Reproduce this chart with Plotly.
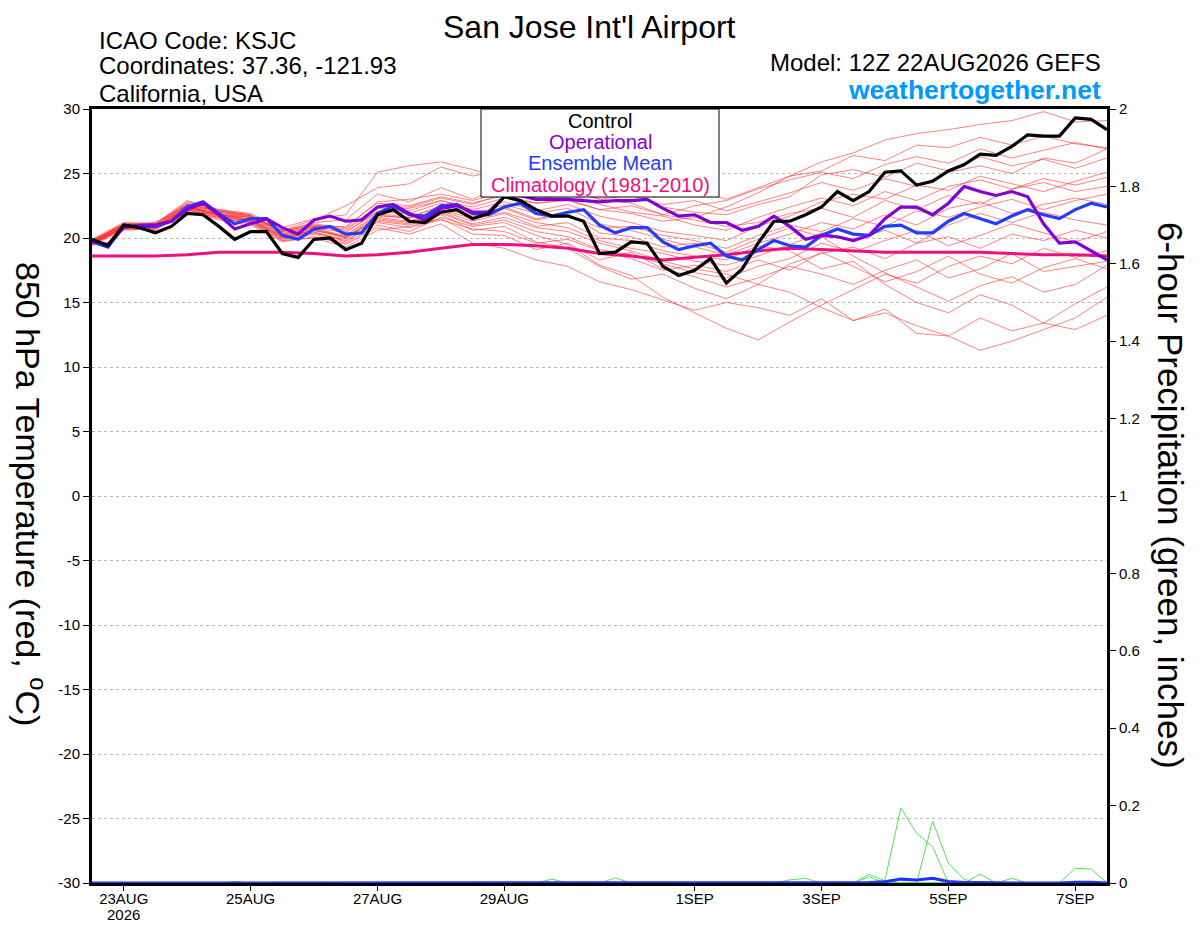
import pandas as pd
import plotly.graph_objects as go

# ---------------- DATA ----------------
START = "2026-08-22 12:00"
N_STEPS = 65  # 6-hourly steps, 22AUG 12Z .. 7SEP 12Z

control = [19.9, 19.4, 21.0, 20.8, 20.4, 20.9, 21.9, 21.8, 20.9, 19.9, 20.5, 20.5, 18.8, 18.5,
           19.9, 20.0, 19.1, 19.6, 21.8, 22.2, 21.3, 21.2, 22.0, 22.2, 21.5, 21.9, 23.2, 22.9,
           22.2, 21.7, 21.7, 21.3, 18.8, 18.9, 19.7, 19.6, 17.8, 17.1, 17.5, 18.4, 16.5, 17.6,
           19.6, 21.3, 21.3, 21.8, 22.4, 23.6, 22.9, 23.6, 25.1, 25.2, 24.1, 24.4, 25.2, 25.7,
           26.5, 26.4, 27.1, 28.0, 27.9, 27.9, 29.3, 29.2, 28.4]

operational = [19.7, 19.5, 20.8, 21.0, 21.0, 21.3, 22.2, 22.7, 21.8, 20.7, 21.1, 21.5, 20.8, 20.3,
               21.4, 21.7, 21.3, 21.4, 22.4, 22.6, 21.9, 21.4, 22.3, 22.5, 22.0, 22.0, 23.2, 23.3,
               23.0, 23.0, 23.0, 22.9, 22.8, 22.9, 22.9, 23.0, 22.3, 21.7, 21.8, 21.2, 21.2, 20.6,
               20.9, 21.7, 20.9, 19.9, 20.2, 20.1, 19.8, 20.2, 21.5, 22.4, 22.4, 21.8, 22.7, 24.0,
               23.6, 23.3, 23.6, 23.2, 21.1, 19.6, 19.7, 19.0, 18.3]

ens_mean = [19.7, 19.3, 20.9, 20.9, 20.9, 21.3, 22.4, 22.8, 21.9, 21.1, 21.5, 21.5, 20.2, 19.9,
            20.7, 20.9, 20.3, 20.4, 21.9, 22.5, 21.8, 21.7, 22.5, 22.6, 21.9, 21.8, 22.4, 22.7,
            21.9, 21.7, 22.0, 22.2, 21.0, 20.4, 20.8, 20.8, 19.7, 19.1, 19.4, 19.6, 18.6, 18.3,
            19.1, 19.8, 19.4, 19.3, 20.2, 20.7, 20.3, 20.2, 20.9, 21.0, 20.4, 20.4, 21.3, 21.9,
            21.5, 21.1, 21.7, 22.2, 21.8, 21.5, 22.2, 22.7, 22.4]

# climatology, 12-hourly
climatology = [18.6, 18.6, 18.6, 18.7, 18.9, 18.9, 18.9, 18.8, 18.6, 18.7, 18.9, 19.2, 19.5,
               19.5, 19.4, 19.2, 18.8, 18.6, 18.3, 18.5, 18.7, 19.0, 19.2, 19.1, 19.0, 18.9,
               18.9, 18.9, 18.9, 18.8, 18.7, 18.7, 18.6]

# ensemble members, 12-hourly
members = [
    [19.8, 21.1, 21.0, 22.7, 22.1, 21.7, 20.5, 21.0, 20.6, 22.3, 22.1, 22.9, 22.4, 23.1, 22.7, 22.9, 22.2,
     21.9, 21.3, 21.6, 22.4, 23.5, 24.8, 25.9, 26.6, 27.6, 28.1, 28.4, 28.8, 29.1, 29.8, 29.0, 29.1],
    [19.6, 20.8, 21.2, 22.5, 21.8, 21.6, 20.6, 21.4, 22.5, 23.9, 24.2, 25.5, 24.8, 25.3, 24.9, 24.7, 24.0,
     24.3, 23.5, 23.7, 23.0, 23.9, 24.8, 25.2, 26.4, 26.0, 27.2, 27.0, 27.8, 27.2, 27.9, 27.3, 27.0],
    [19.7, 21.0, 21.1, 22.9, 22.2, 21.9, 20.8, 21.5, 21.8, 25.1, 25.6, 25.9, 25.3, 24.6, 23.8, 24.2, 23.2,
     23.6, 22.4, 22.0, 21.8, 22.6, 23.2, 24.9, 25.3, 24.7, 25.8, 25.2, 26.3, 25.6, 26.1, 25.4, 26.2],
    [19.5, 20.7, 20.6, 22.2, 21.5, 21.2, 19.8, 20.3, 19.6, 21.0, 20.5, 21.6, 20.9, 21.2, 20.2, 19.5, 17.9,
     17.1, 15.4, 14.2, 13.0, 12.1, 13.5, 14.8, 16.0, 17.2, 16.5, 17.8, 18.6, 18.0, 19.2, 18.5, 19.0],
    [19.6, 20.9, 20.8, 22.3, 21.7, 21.3, 20.0, 20.4, 19.9, 21.5, 21.2, 22.0, 21.1, 21.6, 20.8, 20.5, 19.6,
     19.0, 18.2, 17.6, 17.2, 16.4, 15.8, 14.6, 13.6, 14.2, 13.2, 12.4, 11.3, 12.0, 12.9, 13.8, 15.4],
    [19.4, 20.6, 20.7, 22.1, 21.4, 21.0, 19.7, 20.1, 19.5, 20.8, 20.3, 21.1, 19.6, 19.2, 18.3, 17.8, 16.6,
     16.0, 15.2, 14.4, 15.0, 14.6, 14.0, 15.3, 13.6, 14.5, 12.6, 12.4, 13.8, 12.8, 13.4, 14.9, 16.2],
    [19.7, 20.8, 20.7, 22.0, 21.6, 21.1, 19.8, 20.0, 19.3, 20.6, 20.9, 21.5, 20.3, 20.2, 19.1, 19.6, 18.3,
     18.9, 17.6, 17.0, 16.2, 16.9, 17.8, 17.2, 16.4, 17.5, 18.3, 16.9, 17.6, 18.8, 17.4, 17.8, 18.2],
    [19.8, 21.0, 20.9, 22.5, 22.0, 21.6, 20.3, 20.9, 20.5, 22.0, 21.9, 22.7, 21.8, 22.6, 21.9, 22.3, 21.1,
     20.6, 19.9, 19.3, 18.7, 19.6, 20.3, 21.2, 20.7, 21.8, 21.0, 22.3, 22.8, 21.9, 22.6, 23.1, 22.6],
    [19.9, 21.2, 21.1, 22.8, 22.2, 21.8, 20.6, 21.1, 20.8, 22.8, 23.0, 23.4, 22.9, 23.6, 23.0, 23.4, 22.6,
     22.0, 21.7, 21.0, 20.6, 21.6, 22.4, 23.1, 22.5, 23.6, 22.9, 24.0, 24.5, 23.8, 24.6, 24.1, 24.7],
    [19.5, 20.8, 20.9, 22.3, 21.9, 21.4, 20.1, 20.6, 20.1, 21.8, 21.5, 22.2, 21.5, 22.0, 21.2, 20.8, 19.8,
     19.2, 18.8, 18.2, 17.9, 18.6, 19.5, 20.4, 19.9, 20.6, 19.6, 21.0, 21.9, 21.2, 22.0, 21.4, 21.0],
    [19.6, 20.9, 20.8, 22.4, 21.8, 21.5, 20.2, 20.8, 20.0, 21.7, 21.6, 22.5, 21.7, 22.4, 21.5, 21.9, 20.4,
     20.1, 19.3, 19.6, 18.9, 19.9, 20.8, 20.1, 18.6, 17.3, 16.2, 15.1, 16.3, 17.0, 15.8, 16.4, 17.9],
    [19.8, 21.1, 21.2, 22.6, 22.1, 21.8, 20.5, 21.2, 21.4, 23.4, 22.8, 23.9, 23.0, 24.2, 23.6, 23.9, 23.0,
     23.3, 22.6, 22.9, 22.1, 22.8, 23.5, 24.3, 23.7, 24.6, 24.0, 25.1, 25.6, 25.0, 26.2, 25.8, 26.9],
    [19.7, 21.0, 20.9, 22.4, 21.9, 21.6, 20.3, 20.8, 20.4, 22.1, 22.3, 22.9, 22.2, 22.8, 22.1, 22.6, 21.7,
     21.2, 20.5, 20.2, 19.8, 20.9, 21.7, 22.8, 23.4, 23.0, 24.1, 23.7, 24.8, 24.2, 23.6, 24.4, 25.1],
    [19.5, 20.7, 20.8, 22.2, 21.7, 21.3, 20.0, 20.5, 19.7, 21.3, 21.0, 21.8, 20.6, 20.9, 19.7, 19.2, 17.8,
     16.8, 17.2, 16.1, 15.3, 16.4, 18.0, 18.8, 19.3, 18.4, 19.6, 20.1, 19.2, 20.3, 19.8, 20.6, 20.0],
    [19.6, 20.9, 21.0, 22.5, 21.8, 21.4, 20.2, 20.7, 20.2, 21.9, 21.6, 22.4, 21.6, 22.3, 21.4, 21.8, 20.8,
     20.9, 20.2, 19.8, 19.2, 20.2, 21.0, 20.5, 21.5, 20.9, 22.1, 21.6, 22.4, 23.0, 22.2, 22.9, 23.4],
    [19.7, 20.9, 20.8, 22.3, 21.8, 21.4, 20.1, 20.6, 20.0, 21.6, 21.3, 22.1, 21.3, 21.9, 20.9, 21.2, 20.0,
     19.8, 19.0, 18.6, 18.3, 19.4, 19.0, 17.6, 18.2, 16.4, 15.0, 14.2, 15.6, 14.8, 13.4, 12.9, 14.0],
    [19.8, 21.0, 21.0, 22.6, 22.0, 21.7, 20.4, 20.9, 20.9, 22.7, 22.5, 23.2, 22.7, 23.3, 22.7, 23.0, 22.2,
     22.5, 21.8, 21.4, 20.9, 21.2, 21.9, 22.3, 21.6, 22.9, 22.2, 23.3, 22.6, 23.8, 24.3, 23.6, 24.0],
    [19.5, 20.8, 20.7, 22.2, 21.6, 21.2, 19.9, 20.4, 19.8, 21.2, 20.8, 21.4, 20.7, 20.5, 19.6, 19.9, 19.0,
     18.4, 17.5, 17.9, 17.4, 18.3, 17.5, 18.9, 17.8, 16.6, 17.4, 18.6, 17.2, 16.5, 17.7, 18.4, 17.6],
    [19.8, 21.1, 21.0, 22.6, 22.1, 21.7, 20.5, 21.0, 20.7, 22.4, 22.4, 23.1, 22.6, 23.5, 23.2, 23.6, 23.0,
     22.7, 21.8, 22.5, 22.9, 23.8, 24.5, 25.1, 24.6, 25.7, 26.3, 25.8, 26.9, 26.2, 26.8, 27.4, 26.9],
    [19.6, 20.8, 20.9, 22.4, 21.7, 21.3, 20.0, 20.6, 20.1, 21.4, 21.1, 21.9, 21.0, 21.4, 20.5, 20.1, 19.1,
     18.7, 18.0, 17.3, 16.9, 17.8, 18.4, 19.6, 18.9, 19.8, 20.6, 19.4, 20.2, 21.1, 20.4, 19.7, 20.5],
]

# 6-hour precipitation (inches), 6-hourly, members with non-zero totals
precip_members = [
    [0, 0, 0, 0, 0, 0, 0, 0, 0, 0, 0, 0, 0, 0, 0, 0, 0, 0, 0, 0, 0, 0, 0, 0, 0, 0, 0, 0, 0, 0,
     0, 0, 0, 0, 0, 0, 0, 0, 0, 0, 0, 0, 0, 0, 0, 0, 0, 0, 0, 0, 0.008, 0.194, 0.128, 0.094, 0,
     0, 0, 0, 0, 0, 0, 0, 0, 0, 0],
    [0, 0, 0, 0, 0, 0, 0, 0, 0, 0, 0, 0, 0, 0, 0, 0, 0, 0, 0, 0, 0, 0, 0, 0, 0, 0, 0, 0, 0, 0,
     0, 0, 0, 0, 0, 0, 0, 0, 0, 0, 0, 0, 0, 0, 0, 0, 0, 0, 0, 0, 0, 0, 0, 0.16, 0.051, 0.009,
     0, 0, 0, 0, 0, 0, 0, 0, 0],
    [0, 0, 0, 0, 0, 0, 0, 0, 0, 0, 0, 0, 0, 0, 0, 0, 0, 0, 0, 0, 0, 0, 0, 0, 0, 0, 0, 0, 0, 0,
     0, 0, 0, 0, 0, 0, 0, 0, 0, 0, 0, 0, 0, 0, 0, 0, 0, 0, 0, 0.022, 0.006, 0, 0, 0, 0, 0,
     0.023, 0, 0.012, 0, 0, 0, 0, 0, 0],
    [0, 0, 0, 0, 0, 0, 0, 0, 0, 0, 0, 0, 0, 0, 0, 0, 0, 0, 0, 0, 0, 0, 0, 0, 0, 0, 0, 0, 0, 0,
     0, 0, 0, 0, 0, 0, 0, 0, 0, 0, 0, 0, 0, 0, 0, 0, 0, 0, 0, 0.016, 0, 0, 0, 0, 0, 0, 0, 0,
     0, 0, 0, 0, 0.038, 0.036, 0],
    [0, 0, 0, 0, 0, 0, 0, 0, 0, 0.004, 0, 0, 0, 0, 0, 0, 0, 0, 0, 0, 0, 0, 0, 0, 0, 0, 0, 0, 0,
     0.01, 0, 0, 0, 0.013, 0, 0, 0, 0, 0, 0, 0, 0, 0, 0, 0.008, 0.012, 0, 0, 0, 0, 0, 0, 0, 0,
     0, 0, 0, 0, 0, 0, 0, 0, 0, 0, 0],
]
precip_mean = [0, 0, 0, 0, 0, 0, 0, 0, 0, 0, 0, 0, 0, 0, 0, 0, 0, 0, 0, 0, 0, 0, 0, 0, 0, 0, 0,
               0, 0, 0.001, 0, 0, 0, 0.001, 0, 0, 0, 0, 0, 0, 0, 0, 0, 0, 0, 0, 0, 0, 0, 0.001,
               0.003, 0.010, 0.008, 0.012, 0.004, 0.001, 0.001, 0, 0, 0, 0, 0, 0.002, 0.002, 0]

tick_dates = ["2026-08-23", "2026-08-25", "2026-08-27", "2026-08-29",
              "2026-09-01", "2026-09-03", "2026-09-05", "2026-09-07"]
tick_labels = ["23AUG", "25AUG", "27AUG", "29AUG", "1SEP", "3SEP", "5SEP", "7SEP"]
year_label = "2026"
temp_ticks = [-30, -25, -20, -15, -10, -5, 0, 5, 10, 15, 20, 25, 30]
temp_tick_labels = ["-30", "-25", "-20", "-15", "-10", "-5", "0", "5", "10", "15", "20", "25", "30"]

# ---------------- FIGURE ----------------
times = pd.date_range(START, periods=N_STEPS, freq="6h")
times12 = times[::2]

FONT = "Liberation Sans, Arial, Helvetica, sans-serif"
OFF = 8                      # page body margin of the browser
W, H = 1200 - OFF, 927 - OFF
L, T = 92 - OFF, 109 - OFF   # plot area in page pixels: x 92..1107, y 109..883
PW, PH = 1015, 774
R, B = W - L - PW, H - T - PH


def px(x):
    return (x - OFF - L) / PW


def py(y):
    return (T + PH - (y - OFF)) / PH


fig = go.Figure()

for m in members:
    fig.add_trace(go.Scatter(x=times12, y=m, mode="lines",
                             line=dict(color="rgba(255,45,45,0.75)", width=0.8),
                             hoverinfo="skip", showlegend=False))

for p in precip_members:
    fig.add_trace(go.Scatter(x=times, y=p, mode="lines", yaxis="y2",
                             line=dict(color="rgb(60,225,60)", width=0.9),
                             hoverinfo="skip", showlegend=False))
fig.add_trace(go.Scatter(x=times, y=precip_mean, mode="lines", yaxis="y2",
                         line=dict(color="rgb(30,50,255)", width=3), showlegend=False))

fig.add_trace(go.Scatter(x=times12, y=climatology, mode="lines",
                         line=dict(color="rgb(238,16,128)", width=3), showlegend=False))
fig.add_trace(go.Scatter(x=times, y=ens_mean, mode="lines",
                         line=dict(color="rgb(35,60,255)", width=3.2), showlegend=False))
fig.add_trace(go.Scatter(x=times, y=operational, mode="lines",
                         line=dict(color="rgb(130,0,215)", width=3.2), showlegend=False))
fig.add_trace(go.Scatter(x=times, y=control, mode="lines",
                         line=dict(color="black", width=3.2), showlegend=False))

fig.update_layout(
    width=W, height=H,
    margin=dict(l=L, r=R, t=T, b=B, autoexpand=False),
    paper_bgcolor="white", plot_bgcolor="white",
    font=dict(family=FONT, color="black", size=15),
    showlegend=False,
    xaxis=dict(
        type="date", automargin=False,
        range=[times[0], times[-1]],
        tickvals=pd.to_datetime(tick_dates), ticktext=tick_labels,
        ticks="outside", ticklen=5, tickwidth=1, tickcolor="black",
        ticklabelstandoff=-5,
        showline=True, linewidth=3, linecolor="black", mirror=True,
        showgrid=False, zeroline=False,
        tickfont=dict(size=15),
    ),
    yaxis=dict(
        range=[-30, 30], tickvals=temp_ticks, ticktext=temp_tick_labels, automargin=False,
        ticks="outside", ticklen=6, tickwidth=1, tickcolor="black",
        showline=True, linewidth=3, linecolor="black", mirror=True,
        showgrid=True, gridcolor="#b8b8b8", griddash="dot", gridwidth=1,
        zeroline=False, tickfont=dict(size=15),
    ),
    yaxis2=dict(
        range=[0, 2], dtick=0.2, tick0=0, overlaying="y", side="right", automargin=False,
        ticks="outside", ticklen=6, tickwidth=1, tickcolor="black",
        showline=True, linewidth=3, linecolor="black",
        showgrid=False, zeroline=False, tickfont=dict(size=15),
    ),
)

# year under first date label
fig.add_annotation(text=year_label, xref="x", yref="paper", x=pd.Timestamp(tick_dates[0]),
                   y=py(915), xanchor="center", yanchor="middle", showarrow=False,
                   font=dict(size=15, family=FONT))

# legend box
fig.add_shape(type="rect", xref="paper", yref="paper",
              x0=px(481), x1=px(719), y0=py(197), y1=py(109),
              line=dict(color="black", width=1), fillcolor="white", layer="above")

legend_items = [("Control", "black", 121), ("Operational", "rgb(130,0,215)", 142),
                ("Ensemble Mean", "rgb(35,60,255)", 163),
                ("Climatology (1981-2010)", "rgb(238,16,128)", 185)]
for txt, col, yy in legend_items:
    fig.add_annotation(text=txt, xref="paper", yref="paper", x=px(600), y=py(yy),
                       xanchor="center", yanchor="middle", showarrow=False,
                       font=dict(size=20, color=col, family=FONT))

# header texts
fig.add_annotation(text="San Jose Int'l Airport", xref="paper", yref="paper",
                   x=px(589), y=py(27.5), xanchor="center", yanchor="middle",
                   showarrow=False, borderpad=0, font=dict(size=32, family=FONT))
for txt, yy in [("ICAO Code: KSJC", 40), ("Coordinates: 37.36, -121.93", 66),
                ("California, USA", 93)]:
    fig.add_annotation(text=txt, xref="paper", yref="paper", x=px(97), y=py(yy),
                       xanchor="left", yanchor="middle", showarrow=False,
                       font=dict(size=24, family=FONT))
fig.add_annotation(text="Model: 12Z 22AUG2026 GEFS", xref="paper", yref="paper",
                   x=px(1103), y=py(63), xanchor="right", yanchor="middle",
                   showarrow=False, font=dict(size=24, family=FONT))
fig.add_annotation(text="<b>weathertogether.net</b>", xref="paper", yref="paper",
                   x=px(1103), y=py(90), xanchor="right", yanchor="middle",
                   showarrow=False, font=dict(size=26.5, family=FONT, color="rgb(0,153,255)"))

# axis titles (rotated, reading top to bottom)
fig.add_annotation(text="850 hPa Temperature (red, <sup>o</sup>C)", xref="paper", yref="paper",
                   x=px(31), y=py(494), xanchor="center", yanchor="middle", textangle=90,
                   showarrow=False, font=dict(size=34, family=FONT))
fig.add_annotation(text="6-hour Precipitation (green, inches)", xref="paper", yref="paper",
                   x=px(1170), y=py(495), xanchor="center", yanchor="middle", textangle=90,
                   showarrow=False, font=dict(size=35, family=FONT))

fig.write_html("out.html")
